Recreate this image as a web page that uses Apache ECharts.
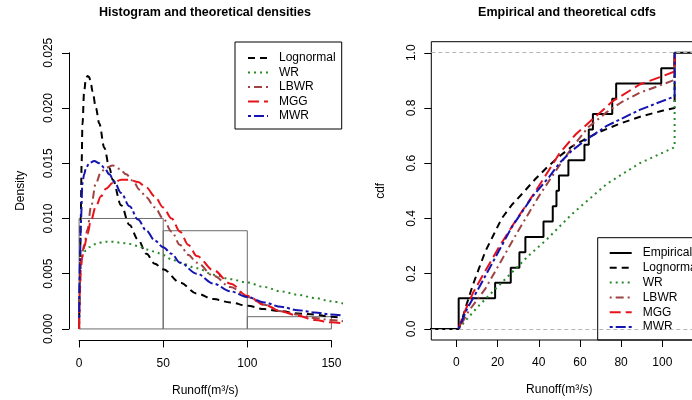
<!DOCTYPE html>
<html>
<head>
<meta charset="utf-8">
<script src="https://cdn.jsdelivr.net/npm/echarts@6/dist/echarts.min.js"></script>
<style>
html,body{margin:0;padding:0;background:#fff;}
#c{width:692px;height:400px;}
</style>
</head>
<body>
<div id="c"></div>
<script>
// ---------- DATA ----------
const seriesNames = ['Lognormal', 'WR', 'LBWR', 'MGG', 'MWR'];
// histogram (density scale)
const binStart = [0, 50, 100];
const binEnd = [50, 100, 150];
const binDensity = [0.0100, 0.00889, 0.00111];
// theoretical densities
const denLnX = [0, 0.5, 1, 1.5, 2, 3, 4, 5, 6, 7, 8, 10, 12, 15, 18, 20, 25, 30, 35, 40, 45, 50, 60, 70, 80, 90, 100, 110, 120, 130, 140, 150, 157];
const denLnY = [0, 0.004, 0.010, 0.015, 0.0185, 0.0215, 0.0226, 0.0229, 0.0228, 0.0222, 0.0215, 0.0200, 0.0186, 0.0164, 0.0146, 0.0135, 0.0112, 0.0094, 0.0081, 0.0068, 0.0059, 0.0054, 0.0042, 0.0032, 0.0027, 0.0024, 0.0021, 0.0018, 0.0016, 0.0014, 0.0013, 0.0011, 0.0010];
const denWrX = [0, 0.5, 1, 2, 4, 6, 10, 15, 20, 25, 30, 35, 40, 45, 50, 55, 60, 70, 80, 90, 100, 110, 120, 130, 140, 150, 157];
const denWrY = [0, 0.005, 0.0060, 0.0066, 0.0071, 0.0074, 0.0077, 0.0079, 0.0079, 0.0078, 0.0077, 0.0075, 0.0072, 0.0070, 0.0067, 0.0063, 0.0060, 0.0055, 0.0049, 0.0045, 0.0042, 0.0038, 0.0034, 0.0031, 0.0028, 0.0025, 0.0023];
const denLbX = [0, 0.5, 1, 2, 3, 5, 7, 10, 13, 16, 20, 24, 28, 32, 36, 40, 45, 50, 55, 60, 65, 70, 80, 90, 100, 110, 120, 130, 140, 150, 157];
const denLbY = [0, 0.004, 0.0062, 0.0070, 0.0076, 0.0090, 0.0110, 0.0132, 0.0142, 0.0146, 0.0148, 0.0145, 0.0140, 0.0134, 0.0126, 0.0119, 0.0110, 0.0100, 0.0088, 0.0076, 0.0067, 0.0060, 0.0048, 0.0038, 0.0029, 0.0022, 0.0016, 0.0013, 0.0010, 0.0008, 0.0007];
const denMggX = [0, 0.5, 1, 2, 3, 5, 7, 10, 13, 16, 20, 25, 30, 35, 40, 45, 50, 55, 60, 65, 70, 80, 90, 100, 110, 120, 130, 140, 150, 157];
const denMggY = [0, 0.0035, 0.0055, 0.0066, 0.0074, 0.0086, 0.0098, 0.0111, 0.0120, 0.0127, 0.0132, 0.0135, 0.0135, 0.0133, 0.0128, 0.0120, 0.0110, 0.0100, 0.0088, 0.0076, 0.0066, 0.0053, 0.0041, 0.0030, 0.0022, 0.0016, 0.0012, 0.0008, 0.0006, 0.0005];
const denMwrX = [0, 0.5, 1, 2, 3, 4, 6, 9, 12, 15, 18, 21, 25, 30, 35, 40, 45, 50, 55, 60, 70, 80, 90, 100, 110, 120, 130, 140, 150, 157];
const denMwrY = [0.001, 0.006, 0.0095, 0.0132, 0.0140, 0.0145, 0.0150, 0.0152, 0.0150, 0.0146, 0.0140, 0.0133, 0.0123, 0.0111, 0.0099, 0.0089, 0.0080, 0.0074, 0.0068, 0.0060, 0.0050, 0.0041, 0.0034, 0.0029, 0.0024, 0.0020, 0.0017, 0.0015, 0.0013, 0.0012];
// empirical cdf (step positions and levels)
const ecdfX = [-14, 1.1, 18.8, 26.4, 30.6, 33.5, 42.3, 46.8, 48.6, 49.8, 54.4, 62.2, 64.3, 66.3, 75.7, 77.6, 99.5, 106.0, 125];
const ecdfY = [0, 0.111, 0.167, 0.222, 0.278, 0.333, 0.389, 0.444, 0.500, 0.556, 0.611, 0.667, 0.722, 0.778, 0.833, 0.889, 0.944, 1.0, 1.0];
// theoretical cdfs
const cdfLnX = [1.1, 3, 5, 8, 11, 14, 18, 22, 27, 32, 38, 44, 50, 56, 62, 70, 80, 90, 100, 106, 106];
const cdfLnY = [0, 0.04, 0.09, 0.16, 0.22, 0.28, 0.34, 0.40, 0.45, 0.49, 0.54, 0.585, 0.625, 0.66, 0.685, 0.715, 0.745, 0.77, 0.79, 0.80, 1.0];
const cdfWrX = [1.1, 5, 11, 19, 27, 35, 44, 56, 73, 89, 106, 106];
const cdfWrY = [0, 0.035, 0.085, 0.145, 0.205, 0.265, 0.325, 0.415, 0.525, 0.60, 0.658, 1.0];
const cdfLbX = [1.1, 6, 14, 22, 30, 40, 48, 56, 64, 73, 80, 89, 100, 106, 106];
const cdfLbY = [0, 0.065, 0.145, 0.25, 0.355, 0.48, 0.57, 0.655, 0.73, 0.785, 0.82, 0.855, 0.885, 0.902, 1.0];
const cdfMggX = [1.1, 3, 8, 14, 21, 29, 35, 42, 50, 58, 67, 76, 89, 99, 106, 106];
const cdfMggY = [0, 0.045, 0.13, 0.21, 0.30, 0.395, 0.46, 0.54, 0.635, 0.705, 0.765, 0.825, 0.885, 0.912, 0.932, 1.0];
const cdfMwrX = [1.1, 5, 11, 19, 27, 37, 45, 50, 56, 63, 73, 89, 100, 106, 106];
const cdfMwrY = [0, 0.07, 0.15, 0.26, 0.37, 0.48, 0.55, 0.60, 0.645, 0.685, 0.735, 0.793, 0.825, 0.842, 1.0];
// tick values
const denXTicks = {min: 0, max: 150, interval: 50};
const denYTicks = {min: 0, max: 0.025, interval: 0.005};
const cdfXTicks = {min: 0, max: 100, interval: 20};
const cdfYTicks = {min: 0, max: 1, interval: 0.2};

// ---------- STYLE ----------
const FONT = '"Liberation Sans", Arial, Helvetica, sans-serif';
const styles = {
  Lognormal: {color: '#000000', type: [7, 5], width: 2},
  WR: {color: '#2a8a2a', type: [2, 4], width: 2},
  LBWR: {color: '#9e4444', type: [2, 4, 8, 4], width: 2},
  MGG: {color: '#e8121a', type: [11, 5], width: 2},
  MWR: {color: '#1414b0', type: [3, 3, 10, 3], width: 2}
};
const zip = (xs, ys) => xs.map((x, i) => [x, ys[i]]);

const denData = {Lognormal: [denLnX, denLnY], WR: [denWrX, denWrY], LBWR: [denLbX, denLbY], MGG: [denMggX, denMggY], MWR: [denMwrX, denMwrY]};
const cdfData = {Lognormal: [cdfLnX, cdfLnY], WR: [cdfWrX, cdfWrY], LBWR: [cdfLbX, cdfLbY], MGG: [cdfMggX, cdfMggY], MWR: [cdfMwrX, cdfMwrY]};

const hiddenAxis = (extra) => Object.assign({type: 'value', show: false, splitLine: {show: false}}, extra);
const tickAxis = (extra) => Object.assign({
  type: 'value', splitLine: {show: false},
  axisLine: {show: true, onZero: false, lineStyle: {color: '#000', width: 1}},
  axisTick: {show: true, length: 7, lineStyle: {color: '#000', width: 1}},
  nameTextStyle: {color: '#000', fontSize: 12, fontFamily: FONT}
}, extra);

const series = [];
// histogram
series.push({
  type: 'custom', xAxisIndex: 0, yAxisIndex: 0, z: 1, silent: true,
  data: binStart.map((s, i) => [s, binEnd[i], binDensity[i]]),
  encode: {x: [0, 1], y: 2},
  renderItem: (params, api) => {
    const p0 = api.coord([api.value(0), api.value(2)]);
    const p1 = api.coord([api.value(1), 0]);
    return {type: 'rect', shape: {x: p0[0], y: p0[1], width: p1[0] - p0[0], height: p1[1] - p0[1]},
      style: {fill: 'none', stroke: '#6b6b6b', lineWidth: 1}};
  }
});
seriesNames.forEach(n => {
  series.push({
    name: n, type: 'line', xAxisIndex: 0, yAxisIndex: 0, z: 3,
    data: zip(denData[n][0], denData[n][1]), showSymbol: false, symbol: 'none',
    smooth: 0.35, smoothMonotone: 'x', lineStyle: styles[n], itemStyle: {color: styles[n].color}, silent: true
  });
});
// empirical
series.push({
  name: 'Empirical', type: 'line', xAxisIndex: 2, yAxisIndex: 2, z: 2, step: 'end',
  data: zip(ecdfX, ecdfY), symbol: 'none', showSymbol: false,
  lineStyle: {color: '#000', width: 2, type: 'solid'}, itemStyle: {color: '#000'}, silent: true,
  markLine: {silent: true, symbol: 'none', label: {show: false},
    lineStyle: {color: '#b5b5b5', type: [4, 3], width: 1},
    data: [{yAxis: 0}, {yAxis: 1}]}
});
seriesNames.forEach(n => {
  series.push({
    name: n, type: 'line', xAxisIndex: 2, yAxisIndex: 2, z: 3,
    data: zip(cdfData[n][0], cdfData[n][1]), showSymbol: false, symbol: 'none',
    lineStyle: styles[n], itemStyle: {color: styles[n].color}, silent: true
  });
});

const legendBase = {
  orient: 'vertical', selectedMode: false,
  borderColor: '#000', borderWidth: 1, borderRadius: 0,
  itemStyle: {opacity: 0},
  textStyle: {color: '#000', fontSize: 12, fontFamily: FONT, padding: [0, 0, 0, 6]}
};

const gridBase = {outerBoundsMode: 'none', containLabel: false};

const option = {
  animation: false,
  backgroundColor: '#fff',
  title: [
    {text: 'Histogram and theoretical densities', left: 205, top: 6, textAlign: 'center', padding: 0,
      textStyle: {fontSize: 12.5, fontWeight: 'bold', color: '#000', fontFamily: FONT}},
    {text: 'Empirical and theoretical cdfs', left: 567, top: 6, textAlign: 'center', padding: 0,
      textStyle: {fontSize: 12.5, fontWeight: 'bold', color: '#000', fontFamily: FONT}}
  ],
  legend: [
    Object.assign({}, legendBase, {data: seriesNames, left: 235, top: 42, itemWidth: 20, itemHeight: 12, itemGap: 2.5,
      padding: [10, 6, 7, 12]}),
    Object.assign({}, legendBase, {data: ['Empirical'].concat(seriesNames), left: 597.7, top: 237.7, itemWidth: 22, itemHeight: 12, itemGap: 2.8,
      padding: [9.3, 40, 7, 11]})
  ],
  grid: [
    Object.assign({left: 69, top: 41.7, width: 272.5, height: 298.3}, gridBase),
    Object.assign({left: 79.1, top: 52.75, width: 252.3, height: 276.2}, gridBase),
    Object.assign({left: 431.3, top: 41.7, width: 270.7, height: 298.3, show: true, borderColor: '#000', borderWidth: 1, backgroundColor: 'transparent'}, gridBase),
    Object.assign({left: 456.4, top: 52.75, width: 205.9, height: 276.2}, gridBase)
  ],
  xAxis: [
    hiddenAxis({gridIndex: 0, min: -6, max: 156}),
    tickAxis({gridIndex: 1, min: denXTicks.min, max: denXTicks.max, interval: denXTicks.interval, offset: 11.5,
      axisLabel: {color: '#000', fontSize: 12, fontFamily: FONT, margin: 17},
      name: 'Runoff(m³/s)', nameLocation: 'middle', nameGap: 44}),
    hiddenAxis({gridIndex: 2, min: -12.2, max: 119.3}),
    tickAxis({gridIndex: 3, min: cdfXTicks.min, max: cdfXTicks.max, interval: cdfXTicks.interval, offset: 11.05,
      axisLine: {show: false, onZero: false},
      axisLabel: {color: '#000', fontSize: 12, fontFamily: FONT, margin: 17},
      name: 'Runoff(m³/s)', nameLocation: 'middle', nameGap: 44})
  ],
  yAxis: [
    hiddenAxis({gridIndex: 0, min: -0.001, max: 0.026}),
    tickAxis({gridIndex: 1, min: denYTicks.min, max: denYTicks.max, interval: denYTicks.interval, offset: 10.1,
      axisLabel: {color: '#000', fontSize: 12, fontFamily: FONT, rotate: 90, margin: 14, formatter: v => v.toFixed(3)},
      name: 'Density', nameLocation: 'middle', nameGap: 42, nameRotate: 90}),
    hiddenAxis({gridIndex: 2, min: -0.04, max: 1.04}),
    tickAxis({gridIndex: 3, min: cdfYTicks.min, max: cdfYTicks.max, interval: cdfYTicks.interval, offset: 25.1,
      axisLine: {show: false, onZero: false},
      axisLabel: {color: '#000', fontSize: 12, fontFamily: FONT, rotate: 90, margin: 14, formatter: v => v.toFixed(1)},
      name: 'cdf', nameLocation: 'middle', nameGap: 45, nameRotate: 90})
  ],
  series: series
};
const chart = echarts.init(document.getElementById('c'), null, {renderer: 'canvas'});
chart.setOption(option);
</script>
</body>
</html>
